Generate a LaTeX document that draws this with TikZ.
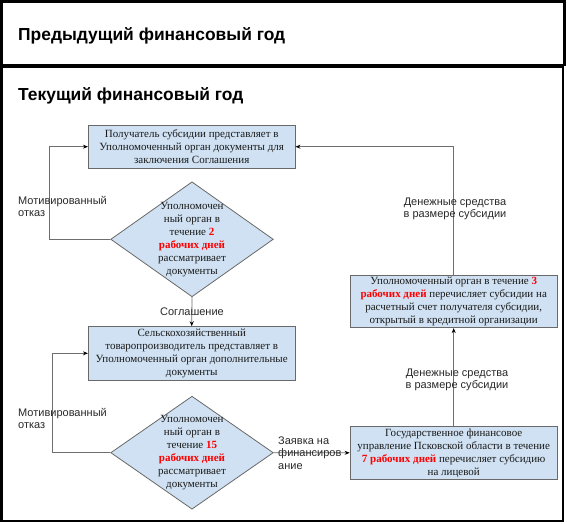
\documentclass[tikz,border=0pt]{standalone}
\usepackage{fontspec}
\setmainfont{Liberation Serif}
\newfontfamily\arialf{Liberation Sans}
\usetikzlibrary{arrows.meta,shapes.geometric}
\definecolor{boxfill}{RGB}{207,225,242}
\definecolor{boxline}{RGB}{105,105,105}
\definecolor{linec}{RGB}{110,110,110}
\definecolor{lbl}{RGB}{40,40,40}
\newcommand{\rd}[1]{\textcolor{red}{\bfseries #1}}
\tikzset{
  box/.style={draw=boxline, fill=boxfill, line width=0.8pt, inner sep=0pt, align=center,
    font=\fontsize{11}{13}\selectfont, text=black!90},
  dia/.style={draw=boxline, fill=boxfill, line width=0.8pt, diamond, inner sep=0pt},
  diatext/.style={inner sep=0pt, align=center, font=\fontsize{11}{13}\selectfont, text=black!90},
  conn/.style={draw=linec, line width=0.8pt, -{Stealth[length=5pt,width=4pt,color=black]}},
  lab/.style={inner sep=0pt, font=\arialf\fontsize{11}{12.3}\selectfont, text=lbl},
  title/.style={inner sep=0pt, anchor=west, font=\arialf\bfseries\fontsize{17.4}{20}\selectfont},
  frame/.style={draw=black, line width=2.5pt}
}
\begin{document}
\begin{tikzpicture}[x=1pt,y=-1pt]
\useasboundingbox (0,0) rectangle (567,524);
\draw[frame] (1.5,1.5) rectangle (564.5,65);
\draw[frame] (1.5,66.5) rectangle (563,521);
\node[title] (t1) at (18,36) {Предыдущий финансовый год};
\node[title] (t2) at (18,96) {Текущий финансовый год};

\node[box, minimum width=206.7pt, minimum height=43.3pt] (b1) at (191.7,146.7)
  {Получатель субсидии представляет в\\Уполномоченный орган документы для\\заключения Соглашения};
\node[dia, minimum width=162.6pt, minimum height=115pt] (d1) at (192,239.3) {};
\node[diatext] (d1t) at (192,239.3) {Уполномочен\\ный орган в\\течение \rd{2}\\\rd{рабочих дней}\\рассматривает\\документы};

\node[box, minimum width=206.7pt, minimum height=53.3pt] (b2) at (191.7,353.3)
  {Сельскохозяйственный\\товаропроизводитель представляет в\\Уполномоченный орган дополнительные\\документы};
\node[dia, minimum width=162.6pt, minimum height=113pt] (d2) at (192,452.7) {};
\node[diatext] (d2t) at (192,452.7) {Уполномочен\\ный орган в\\течение \rd{15}\\\rd{рабочих дней}\\рассматривает\\документы};

\node[box, minimum width=207.3pt, minimum height=52.3pt] (b3) at (453.7,452.8)
  {Государственное финансовое\\управление Псковской области в течение\\\rd{7 рабочих дней} перечисляет субсидию\\на лицевой};
\node[box, minimum width=207.3pt, minimum height=52pt] (b4) at (453.7,301.7)
  {Уполномоченный орган в течение \rd{3}\\\rd{рабочих дней} перечисляет субсидии на\\расчетный счет получателя субсидии,\\открытый в кредитной организации};

\coordinate (l1) at (49,239.3);
\coordinate (l2) at (52,452.7);
\coordinate (r1) at (453.7,146.7);

\draw[conn] (d1.west) -- (l1) |- (b1.west);
\draw[conn] (d1.south) -- (b2.north);
\draw[conn] (d2.west) -- (l2) |- (b2.west);
\draw[conn] (d2.east) -- (b3.west);
\draw[conn] (b3.north) -- (b4.south);
\draw[conn] (b4.north) -- (r1) -- (b1.east);

\node[lab, align=left, anchor=north west] (m1) at (18,196) {Мотивированный\\отказ};
\node[lab, align=left, anchor=north west] (m2) at (18,408) {Мотивированный\\отказ};
\node[lab] (s1) at (192,312) {Соглашение};
\node[lab, align=left, anchor=west] (z1) at (278,453) {Заявка на\\финансиров\\ание};
\node[lab, align=center] (den1) at (455,209) {Денежные средства\\в размере субсидии};
\node[lab, align=center] (den2) at (457,380) {Денежные средства\\в размере субсидии};
\end{tikzpicture}
\end{document}
